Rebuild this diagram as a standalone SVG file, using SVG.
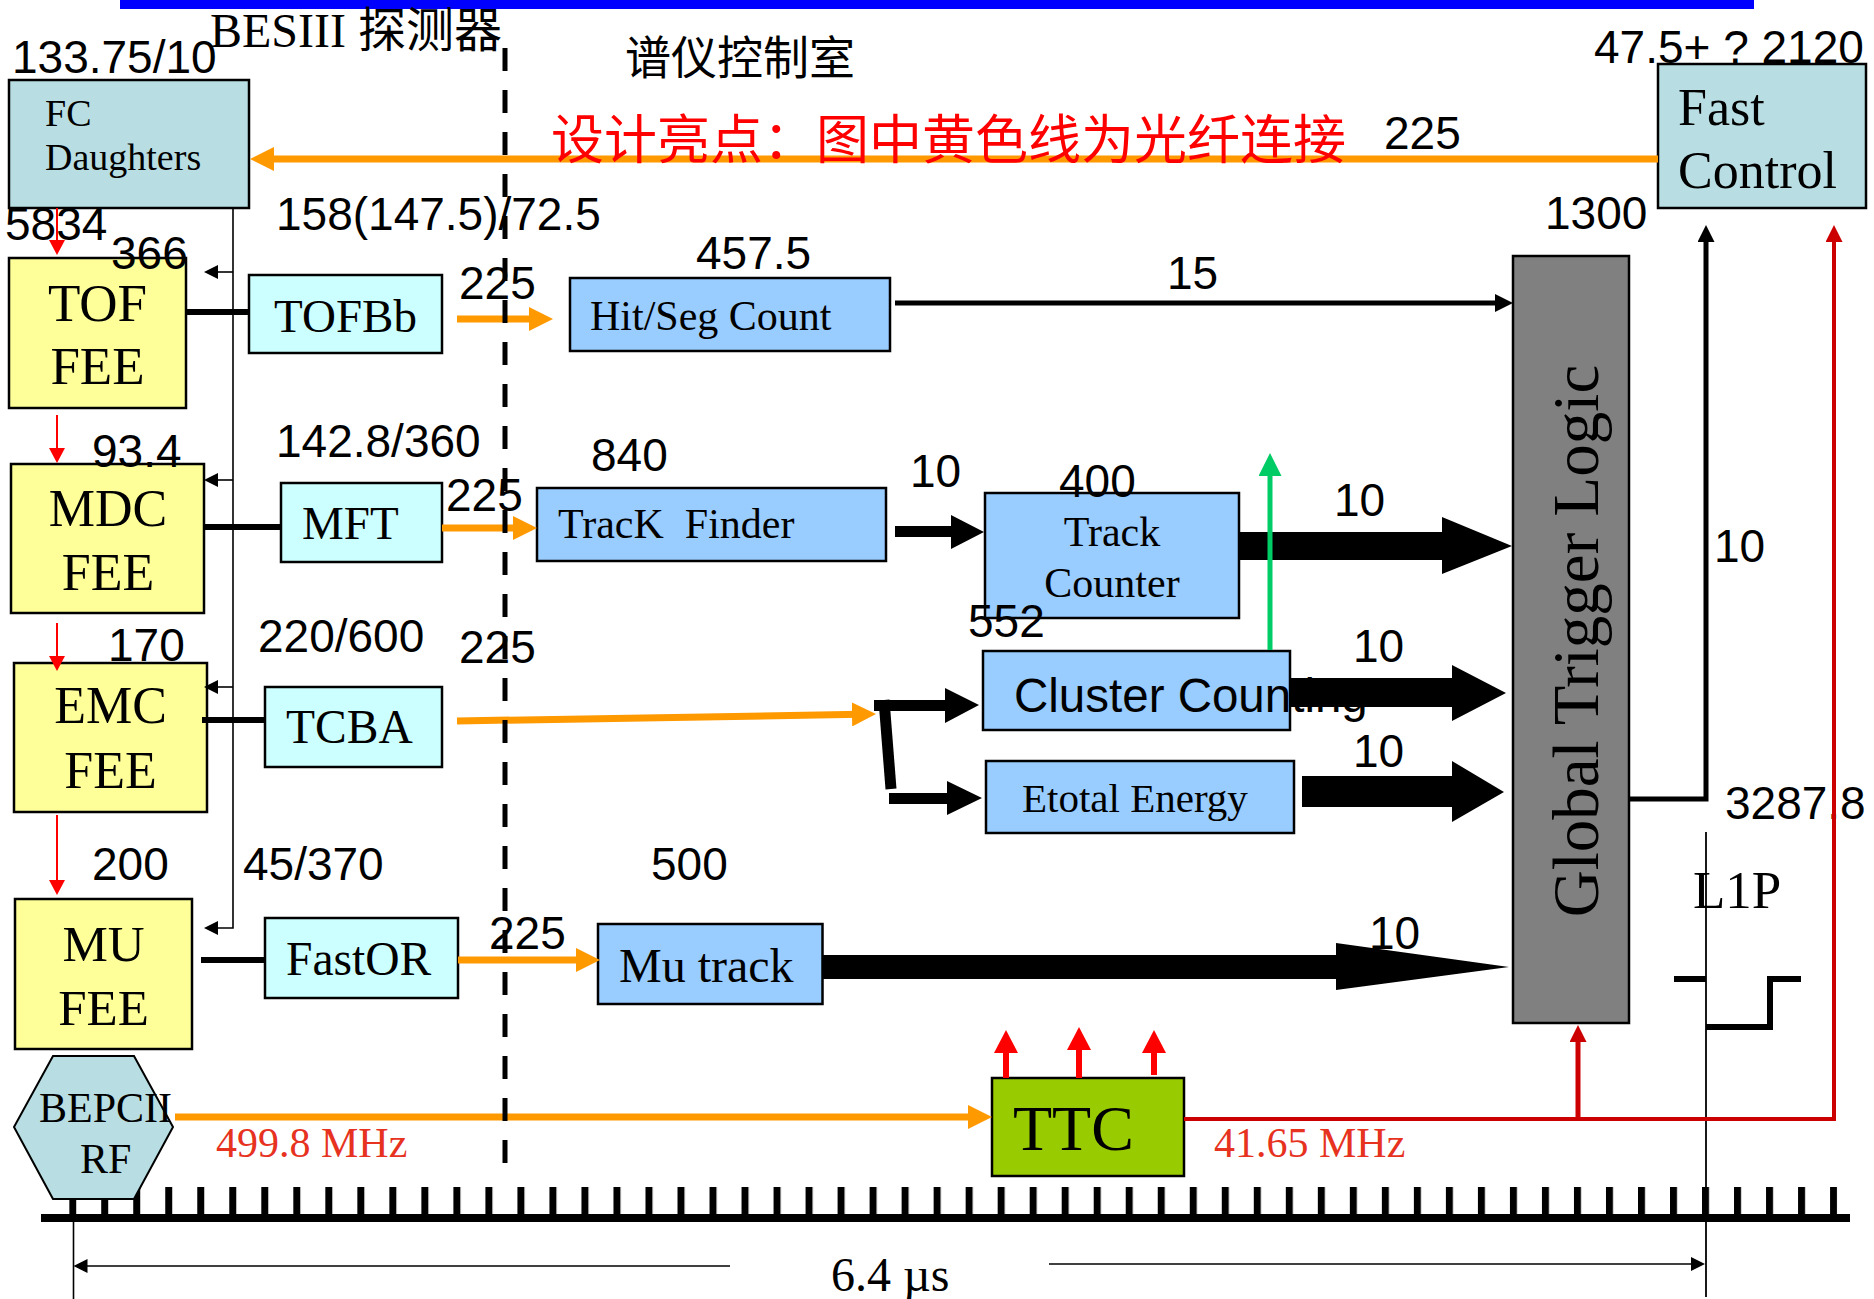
<svg xmlns="http://www.w3.org/2000/svg" width="1874" height="1299" viewBox="0 0 1874 1299">
<style>
.num{font-family:"Liberation Sans",Arial,sans-serif;font-size:46px;fill:#000}
.tm{font-family:"Liberation Serif","Times New Roman",serif;fill:#000}
.cjk{font-family:"Noto Sans CJK SC",sans-serif}
.box{stroke:#000;stroke-width:2.5}
.teal{fill:#B8DEE3}
.fee{fill:#FFFF99}
.brd{fill:#CCFFFF}
.proc{fill:#99CCFF}
.orange{fill:none;stroke:#FF9900;stroke-width:7}
.thin{fill:none;stroke:#000;stroke-width:1.6}
.thick{fill:none;stroke:#000;stroke-width:6}
.redthin{fill:none;stroke:#FF0000;stroke-width:2}
.block{fill:#000}
</style>
<defs>
<marker id="mO" markerUnits="userSpaceOnUse" markerWidth="24" markerHeight="24" refX="8" refY="12" orient="auto"><path d="M0,0 L24,12 L0,24 z" fill="#FF9900"/></marker>
<marker id="mK" markerUnits="userSpaceOnUse" markerWidth="14" markerHeight="14" refX="4" refY="7" orient="auto"><path d="M0,0 L14,7 L0,14 z" fill="#000"/></marker>
<marker id="mKb" markerUnits="userSpaceOnUse" markerWidth="18" markerHeight="18" refX="8" refY="9" orient="auto"><path d="M0,0 L18,9 L0,18 z" fill="#000"/></marker>
<marker id="mKu" markerUnits="userSpaceOnUse" markerWidth="17" markerHeight="17" refX="7" refY="8.5" orient="auto"><path d="M0,0 L17,8.5 L0,17 z" fill="#000"/></marker>
<marker id="mR" markerUnits="userSpaceOnUse" markerWidth="15" markerHeight="16" refX="13" refY="8" orient="auto"><path d="M0,0 L15,8 L0,16 z" fill="#FF0000"/></marker>
<marker id="mRD" markerUnits="userSpaceOnUse" markerWidth="17" markerHeight="17" refX="7" refY="8.5" orient="auto"><path d="M0,0 L17,8.5 L0,17 z" fill="#CC0000"/></marker>
<marker id="mRB" markerUnits="userSpaceOnUse" markerWidth="23" markerHeight="24" refX="11" refY="12" orient="auto"><path d="M0,0 L23,12 L0,24 z" fill="#FF0000"/></marker>
<marker id="mG" markerUnits="userSpaceOnUse" markerWidth="23" markerHeight="23" refX="11" refY="11.5" orient="auto"><path d="M0,0 L23,11.5 L0,23 z" fill="#00CC66"/></marker>
<pattern id="ticks" x="69.2" y="0" width="32.016" height="1299" patternUnits="userSpaceOnUse"><rect x="0" y="0" width="7" height="1299" fill="#000"/></pattern>
</defs>
<rect x="0" y="0" width="1874" height="1299" fill="#fff"/>
<rect x="120" y="0" width="1634" height="9" fill="#0000FF"/>

<g id="timeline">
<rect x="69.2" y="1187" width="1768" height="31" fill="url(#ticks)"/>
<line x1="41" y1="1218" x2="1850" y2="1218" stroke="#000" stroke-width="8"/>
<line x1="73.5" y1="1218" x2="73.5" y2="1299" stroke="#000" stroke-width="1.6"/>
<line x1="1706" y1="832" x2="1706" y2="1297" stroke="#000" stroke-width="1.8"/>
<path d="M730,1266 H83.5" class="thin" marker-end="url(#mK)"/>
<path d="M1049,1264 H1695" class="thin" marker-end="url(#mK)"/>
<text class="tm" font-size="48" x="831" y="1291">6.4 µs</text>
<path d="M1674,979 H1706 M1706,1027 H1770 V979 H1801" fill="none" stroke="#000" stroke-width="6"/>
<text class="tm" font-size="53" x="1693" y="908">L1P</text>
</g>

<g id="fc-daughters"><rect x="9" y="80" width="240" height="128" class="box teal"/><text class="tm" font-size="38" x="45" y="126">FC</text><text class="tm" font-size="38" x="45" y="170">Daughters</text></g>
<g id="tof-fee"><rect x="9" y="258" width="177" height="150" class="box fee"/><text class="tm" font-size="53" x="97.5" y="321" text-anchor="middle">TOF</text><text class="tm" font-size="53" x="97.5" y="384" text-anchor="middle">FEE</text></g>
<g id="mdc-fee"><rect x="11" y="464" width="193" height="149" class="box fee"/><text class="tm" font-size="52" x="108" y="526" text-anchor="middle">MDC</text><text class="tm" font-size="52" x="108" y="590" text-anchor="middle">FEE</text></g>
<g id="emc-fee"><rect x="14" y="663" width="193" height="149" class="box fee"/><text class="tm" font-size="52" x="110.5" y="723" text-anchor="middle">EMC</text><text class="tm" font-size="52" x="110.5" y="788" text-anchor="middle">FEE</text></g>
<g id="mu-fee"><rect x="15" y="899" width="177" height="150" class="box fee"/><text class="tm" font-size="51" x="103.5" y="961" text-anchor="middle">MU</text><text class="tm" font-size="51" x="103.5" y="1025" text-anchor="middle">FEE</text></g>
<g id="bepcii-rf"><polygon points="53,1056 134,1056 173,1127 134,1199 53,1199 14,1127" fill="#B8DEE3" stroke="#000" stroke-width="2"/><text class="tm" font-size="42" x="39" y="1122">BEPCII</text><text class="tm" font-size="42" x="80" y="1173">RF</text></g>
<g id="tofbb"><rect x="249" y="275" width="193" height="78" class="box brd"/><text class="tm" font-size="47" x="345.5" y="332" text-anchor="middle">TOFBb</text></g>
<g id="mft"><rect x="281" y="483" width="161" height="79" class="box brd"/><text class="tm" font-size="47" x="302" y="539">MFT</text></g>
<g id="tcba"><rect x="265" y="687" width="177" height="80" class="box brd"/><text class="tm" font-size="47.5" x="286" y="743">TCBA</text></g>
<g id="fastor"><rect x="265" y="918" width="193" height="80" class="box brd"/><text class="tm" font-size="47.5" x="286" y="975">FastOR</text></g>
<g id="hitseg-count"><rect x="570" y="278" width="320" height="73" class="box proc"/><text class="tm" font-size="42" x="590" y="330">Hit/Seg Count</text></g>
<g id="track-finder"><rect x="537" y="488" width="349" height="73" class="box proc"/><text class="tm" font-size="42" x="558" y="538" xml:space="preserve">TracK  Finder</text></g>
<g id="track-counter"><rect x="985" y="493" width="254" height="125" class="box proc"/><text class="tm" font-size="42" x="1112" y="546" text-anchor="middle">Track</text><text class="tm" font-size="42" x="1112" y="597" text-anchor="middle">Counter</text></g>
<g id="cluster-counting"><rect x="983" y="651" width="307" height="79" class="box proc"/><text class="num" font-size="47.5" x="1014" y="712" style="font-size:47.5px">Cluster Counting</text></g>
<g id="etotal-energy"><rect x="986" y="761" width="308" height="72" class="box proc"/><text class="tm" font-size="41" x="1022" y="812">Etotal Energy</text></g>
<g id="mu-track"><rect x="598" y="924" width="224.5" height="80" class="box proc"/><text class="tm" font-size="48" x="619" y="982">Mu track</text></g>
<g id="global-trigger-logic"><rect x="1513" y="256" width="116" height="767" fill="#808080" class="box"/><text class="tm" font-size="65" text-anchor="middle" transform="translate(1598,641) rotate(-90)">Global Trigger Logic</text></g>
<g id="fast-control"><rect x="1658" y="64" width="208" height="144" class="box teal"/><text class="tm" font-size="52" x="1678" y="125">Fast</text><text class="tm" font-size="52" x="1678" y="188">Control</text></g>
<g id="ttc"><rect x="992" y="1078" width="192" height="98" fill="#99CC00" class="box"/><text class="tm" font-size="64" x="1013" y="1150">TTC</text></g>

<g id="labels">
<text class="num" x="12" y="73">133.75/10</text>
<text class="num" x="276" y="230">158(147.5)/72.5</text>
<text class="num" x="5" y="240">5834</text>
<text class="num" x="111" y="269">366</text>
<text class="num" x="459" y="299">225</text>
<text class="num" x="696" y="269">457.5</text>
<text class="num" x="1167" y="289">15</text>
<text class="num" x="1545" y="229">1300</text>
<text class="num" x="1594" y="63">47.5+ ? 2120</text>
<text class="num" x="1384" y="149">225</text>
<text class="num" x="276" y="457">142.8/360</text>
<text class="num" x="92" y="467">93.4</text>
<text class="num" x="446" y="511">225</text>
<text class="num" x="591" y="471">840</text>
<text class="num" x="910" y="487">10</text>
<text class="num" x="1059" y="497">400</text>
<text class="num" x="1334" y="516">10</text>
<text class="num" x="1714" y="562">10</text>
<text class="num" x="968" y="637">552</text>
<text class="num" x="258" y="652">220/600</text>
<text class="num" x="108" y="661">170</text>
<text class="num" x="459" y="663">225</text>
<text class="num" x="1353" y="662">10</text>
<text class="num" x="1353" y="767">10</text>
<text class="num" x="1725" y="819">3287.8</text>
<text class="num" x="92" y="880">200</text>
<text class="num" x="243" y="880">45/370</text>
<text class="num" x="651" y="880">500</text>
<text class="num" x="489" y="949">225</text>
<text class="num" x="1369" y="949">10</text>
<text class="tm" font-size="42" x="216" y="1157" style="fill:#E6321E">499.8 MHz</text>
<text class="tm" font-size="42" x="1214" y="1157" style="fill:#E6321E">41.65 MHz</text>
</g>

<g id="connectors">
<path d="M186,312 H249 M204,527 H281 M202,720 H265 M201,960 H265" class="thick"/>
<path d="M233,208 V928 H214" class="thin" marker-end="url(#mK)"/>
<path d="M233,272 H214" class="thin" marker-end="url(#mK)"/>
<path d="M233,480 H214" class="thin" marker-end="url(#mK)"/>
<path d="M233,687 H214" class="thin" marker-end="url(#mK)"/>
<path d="M57,208 V253" class="redthin" marker-end="url(#mR)"/>
<path d="M57,415 V461" class="redthin" marker-end="url(#mR)"/>
<path d="M57,623 V669" class="redthin" marker-end="url(#mR)"/>
<path d="M57,815 V893" class="redthin" marker-end="url(#mR)"/>
<path d="M1658,159 H266" class="orange" marker-end="url(#mO)"/>
<path d="M457,319 H537" class="orange" marker-end="url(#mO)"/>
<path d="M442,528 H521" class="orange" marker-end="url(#mO)"/>
<path d="M457,721 L860,714.3" class="orange" marker-end="url(#mO)"/>
<path d="M458,960 H584" class="orange" marker-end="url(#mO)"/>
<path d="M175,1117 H976" class="orange" marker-end="url(#mO)"/>
<path d="M895,303 H1503" fill="none" stroke="#000" stroke-width="5" marker-end="url(#mKb)"/>
<polygon class="block" points="895,526 951,526 951,515 984,532 951,549 951,537 895,537"/>
<polygon class="block" points="1238,532 1442,532 1442,517 1512,546 1442,574 1442,560 1238,560"/>
<polygon class="block" points="1291,678 1452,678 1452,665 1506,693 1452,721 1452,707 1291,707"/>
<polygon class="block" points="1302,776 1452,776 1452,761 1504,792 1452,822 1452,807 1302,807"/>
<polygon class="block" points="822,955 1336,955 1336,943 1509,967 1336,990 1336,979 822,979"/>
<polygon class="block" points="874,700 945,700 945,688 979,705 945,723 945,711 874,711"/>
<polygon class="block" points="889,793 947,793 947,781 982,798 947,815 947,804 889,804"/>
<line x1="884" y1="700" x2="891" y2="789" stroke="#000" stroke-width="11"/>
<path d="M1270,650 V465" fill="none" stroke="#00CC66" stroke-width="5" marker-end="url(#mG)"/>
<path d="M1629,799 H1706 V235" fill="none" stroke="#000" stroke-width="5" marker-end="url(#mKu)"/>
<path d="M1184,1119 H1834 V235" fill="none" stroke="#CC0000" stroke-width="4" marker-end="url(#mRD)"/>
<path d="M1578,1119 V1035" fill="none" stroke="#CC0000" stroke-width="5" marker-end="url(#mRD)"/>
<path d="M1006,1078 V1042" fill="none" stroke="#FF0000" stroke-width="6" marker-end="url(#mRB)"/>
<path d="M1079,1078 V1039" fill="none" stroke="#FF0000" stroke-width="6" marker-end="url(#mRB)"/>
<path d="M1154,1075 V1042" fill="none" stroke="#FF0000" stroke-width="6" marker-end="url(#mRB)"/>
<path d="M505,48 V1164" fill="none" stroke="#000" stroke-width="5" stroke-dasharray="23 19"/>
</g>

<g id="titles">
<text class="tm" font-size="48" x="210" y="47">BESIII <tspan class="cjk">探测器</tspan></text>
<text class="cjk" font-size="46" x="625" y="74" fill="#000">谱仪控制室</text>
<text class="cjk" font-size="53" x="551" y="159" fill="#FF0000">设计亮点：图中黄色线为光纤连接</text>
</g>
</svg>
